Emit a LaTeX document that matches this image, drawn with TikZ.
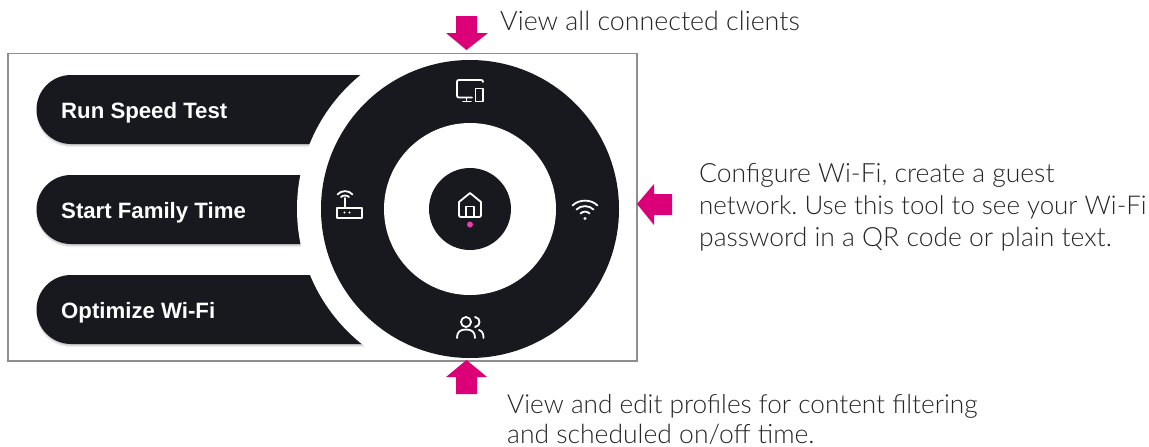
\documentclass[tikz,border=0pt]{standalone}
\usepackage{fontspec}
\setmainfont{Lato Light}
\newfontfamily\pillfont{Liberation Sans}
\frenchspacing
\definecolor{ink}{HTML}{18191F}
\definecolor{magent}{HTML}{DC0078}
\definecolor{dotpink}{HTML}{E83FA8}
\definecolor{framegray}{HTML}{8E8E8E}
\definecolor{txt}{HTML}{262626}
\tikzset{
  x=1pt,y=-1pt,
  pillshape/.style={fill=ink},
  pillshadow/.style={fill=black,opacity=0.07},
  pilltext/.style={anchor=base west,inner sep=0,text=white,font=\pillfont\bfseries\fontsize{22.2}{26}\selectfont},
  note/.style={anchor=base west,inner sep=0,text=txt,font=\fontsize{#1}{32}\selectfont},
  note/.default=26.5,
  blockarrow/.style={fill=magent,draw=none},
  icon/.style={draw=white,line width=1.8pt,line cap=round,line join=round},
  disc/.style={circle,draw=none,inner sep=0,outer sep=0}
}
\begin{document}
\begin{tikzpicture}
\useasboundingbox (0,0) rectangle (1149,447);
\fill[white] (0,0) rectangle (1149,447);
% pills
\foreach \t in {75,175,275}{
  \foreach \s in {1,2,3}{
    \fill[pillshadow] (400,\t+\s) -- (71,\t+\s) arc[start angle=270,end angle=90,radius=34.5] -- (400,\t+69+\s) -- cycle;
  }
  \fill[pillshape] (400,\t) -- (71,\t) arc[start angle=270,end angle=90,radius=34.5] -- (400,\t+69) -- cycle;
}
% clearance and wheel
\node[disc,fill=white,minimum size=346pt] (gap) at (470,209) {};
\node[disc,fill=ink,minimum size=298pt] (wheel) at (470,209) {};
\node[disc,fill=white,minimum size=172pt] (well) at (470,209) {};
\node[disc,fill=ink,minimum size=82pt] (hub) at (470,209) {};
% frame
\draw[framegray,line width=1.6pt] (8,53.5) rectangle (637,361);
% pill labels
\node[pilltext] (run) at (61,118) {Run Speed Test};
\node[pilltext] (family) at (61,218) {Start Family Time};
\node[pilltext] (optimize) at (61,318) {Optimize Wi-Fi};
% devices icon
\draw[icon] (472,97.5) -- (459,97.5) .. controls (457.5,97.5) and (457,97) .. (457,95.5) -- (457,82) .. controls (457,80.5) and (457.5,80) .. (459,80) -- (481,80) .. controls (482.5,80) and (483,80.5) .. (483,82);
\draw[icon] (466.5,98) -- (466.5,101.5) (463,101.5) -- (471,101.5);
\draw[icon] (475.5,88.5) rectangle (483,101.5);
% home icon
\draw[icon] (470,193) -- (481,202) -- (481,215) .. controls (481,216.5) and (480.5,217) .. (479,217) -- (461,217) .. controls (459.5,217) and (459,216.5) .. (459,215) -- (459,202) -- cycle;
\draw[icon] (466,217) -- (466,206.5) -- (474,206.5) -- (474,217);
\fill[dotpink] (470,224.5) circle[radius=3];
% people icon
\draw[icon] (466,322) circle[radius=5];
\draw[icon] (457,338) .. controls (457,332) and (460,329.5) .. (466,329.5) .. controls (472,329.5) and (475,332) .. (475,338);
\draw[icon] (475,317) .. controls (481,317.5) and (481,326.5) .. (475,327);
\draw[icon] (479,330) .. controls (482.5,331) and (483.5,334) .. (483.5,338);
% router icon
\draw[icon] (337,208) rectangle (362,218);
\draw[icon] (345,207) -- (345,198);
\draw[icon] (337.5,194.5) .. controls (341,190) and (349,190) .. (352.5,194.5);
\draw[icon] (341,197) .. controls (343,195) and (347,195) .. (349,197);
\fill[white] (344.5,212.5) circle[radius=1.1] (349.5,212.5) circle[radius=1.1];
% wifi icon
\draw[icon] (572.5,205.5) .. controls (579,199) and (591,199) .. (597.5,205.5);
\draw[icon] (576.5,209.5) .. controls (581,205) and (589,205) .. (593.5,209.5);
\draw[icon] (580.5,213.5) .. controls (583,211) and (587,211) .. (589.5,213.5);
\fill[white] (585,218.5) circle[radius=1.6];
% arrows
\fill[blockarrow] (456,16) -- (477,16) -- (477,33) -- (488,33) -- (466.5,50) -- (446,33) -- (456,33) -- cycle;
\fill[blockarrow] (456,394) -- (477,394) -- (477,377) -- (487,377) -- (466.5,360) -- (446,377) -- (456,377) -- cycle;
\fill[blockarrow] (672,194) -- (672,215) -- (654,215) -- (654,225) -- (637,204) -- (654,184) -- (654,194) -- cycle;
% notes
\node[note=26.8] (clients) at (500,30) {View all connected clients};
\node[note] (wifi1) at (699,182) {Configure Wi-Fi, create a guest};
\node[note=25.9] (wifi2) at (699,214) {network. Use this tool to see your Wi-Fi};
\node[note] (wifi3) at (699,246) {password in a QR code or plain text.};
\node[note=26.2] (prof1) at (507,413) {View and edit profiles for content filtering};
\node[note] (prof2) at (507,443) {and scheduled on/off time.};
\end{tikzpicture}
\end{document}
